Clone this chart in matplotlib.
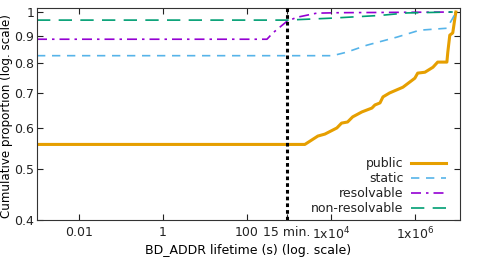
import matplotlib
matplotlib.use("Agg")
import matplotlib.pyplot as plt
from matplotlib.ticker import FixedLocator, FixedFormatter, NullLocator

# ---- data ----
public_x = [1e-3, 2400, 4900, 7200, 1.39e4, 1.8e4, 2.5e4, 3.3e4, 5.5e4, 9.5e4, 1.12e5,
            1.48e5, 1.74e5, 2.5e5, 5.2e5, 1e6, 1.17e6, 1.74e6, 2.7e6, 3.5e6, 5.8e6,
            6.1e6, 6.8e6, 8e6, 9e6, 9.5e6]
public_y = [0.558, 0.558, 0.579, 0.584, 0.600, 0.613, 0.616, 0.630, 0.644, 0.655, 0.664,
            0.670, 0.688, 0.700, 0.718, 0.747, 0.764, 0.767, 0.784, 0.802, 0.802,
            0.838, 0.903, 0.912, 0.973, 1.0]

static_x = [1e-3, 1.1e4, 2.4e4, 7.2e4, 3.7e5, 1.3e6, 5.8e6, 8e6, 9.5e6]
static_y = [0.825, 0.825, 0.838, 0.864, 0.895, 0.923, 0.931, 0.973, 1.0]

resolvable_x = [1e-3, 300, 415, 900, 1550, 4600, 1.6e4, 9e6]
resolvable_y = [0.887, 0.887, 0.912, 0.96, 0.977, 0.995, 0.997, 1.0]

nonres_x = [1e-3, 900, 9.5e3, 1.48e5, 6.5e5, 8e6]
nonres_y = [0.965, 0.965, 0.973, 0.985, 0.996, 1.0]

xticks = [0.01, 1, 100, 900, 1e4, 1e6]
xtick_labels = ["0.01", "1", "100", "15 min.", r"1x10$^4$", r"1x10$^6$"]
yticks = [0.4, 0.5, 0.6, 0.7, 0.8, 0.9, 1.0]
ytick_labels = ["0.4", "0.5", "0.6", "0.7", "0.8", "0.9", "1"]
cutoff = 900  # 15 minutes

plt.rcParams["font.family"] = ["DejaVu Sans"]
plt.rcParams["font.size"] = 9
plt.rcParams["text.color"] = "#222222"

fig = plt.figure(figsize=(4.78, 2.57), dpi=100)
ax = fig.add_axes([0.0774, 0.144, 0.962 - 0.0774, 0.969 - 0.144])

ax.plot(public_x, public_y, color="#E69F00", lw=2.2, label="public")
ax.plot(static_x, static_y, color="#56B4E9", lw=1.2, dashes=(5, 4), label="static")
ax.plot(resolvable_x, resolvable_y, color="#9400D3", lw=1.2, dashes=(6, 3, 1.5, 3),
        label="resolvable")
ax.plot(nonres_x, nonres_y, color="#009E73", lw=1.2, dashes=(8, 5), label="non-resolvable")
ax.axvline(cutoff, color="black", lw=2.2, dashes=(1.2, 1), zorder=5)

ax.set_xscale("log")
ax.set_yscale("log")
ax.set_xlim(1e-3, 1.18e7)
ax.set_ylim(0.4, 1.018)

ax.xaxis.set_major_locator(FixedLocator(xticks))
ax.xaxis.set_major_formatter(FixedFormatter(xtick_labels))
ax.xaxis.set_minor_locator(NullLocator())
ax.yaxis.set_major_locator(FixedLocator(yticks))
ax.yaxis.set_major_formatter(FixedFormatter(ytick_labels))
ax.yaxis.set_minor_locator(NullLocator())
ax.tick_params(which="both", direction="in", length=4, width=0.8, top=True, right=True,
               labelsize=9, colors="#222222")
ax.tick_params(axis="x", pad=4)
ax.tick_params(axis="y", pad=2)
for s in ax.spines.values():
    s.set_linewidth(0.8)
    s.set_color("#333333")

ax.set_xlabel("BD_ADDR lifetime (s) (log. scale)", labelpad=1)
ax.set_ylabel("Cumulative proportion (log. scale)", fontsize=8.6)
ax.yaxis.set_label_coords(-0.057, 0.49)

ax.legend(loc="lower right", frameon=False, markerfirst=False, handlelength=2.8,
          handletextpad=0.55, labelspacing=0.15, borderaxespad=0.0, fontsize=9,
          bbox_to_anchor=(0.978, 0.0))

fig.savefig("out.png", dpi=100)
